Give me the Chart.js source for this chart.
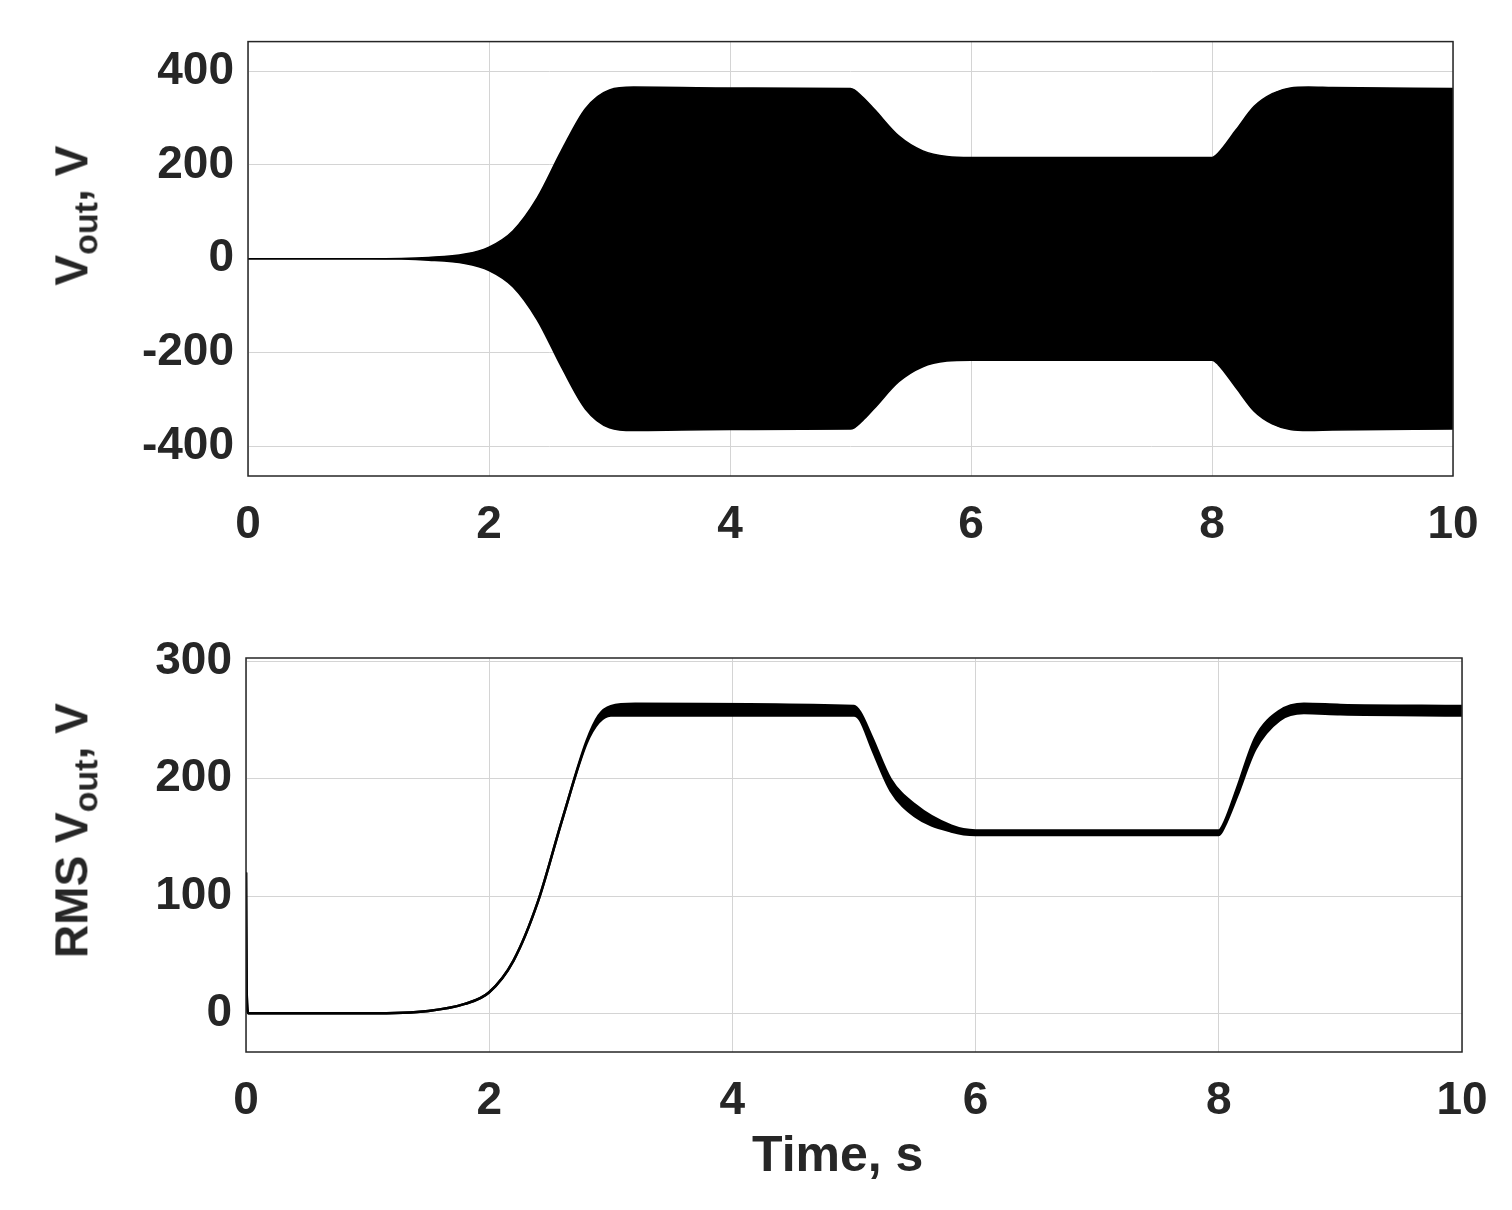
<!DOCTYPE html>
<html><head><meta charset="utf-8">
<script src="https://cdn.jsdelivr.net/npm/chart.js@4"></script>
<style>
body{margin:0;background:#fff;width:1512px;height:1210px;position:relative;overflow:hidden;font-family:"Liberation Sans",Arial,sans-serif}
canvas{position:absolute;left:0}
.yt{position:absolute;font-weight:bold;font-size:46px;color:#262626;transform:rotate(-90deg);transform-origin:center;white-space:nowrap}
.yt sub{font-size:34px}
</style></head><body>
<canvas id="c1" style="top:0px" width="1512" height="560"></canvas>
<canvas id="c2" style="top:600px" width="1512" height="560"></canvas>
<div class="yt" style="left:-55px;top:185px;width:260px;text-align:center">V<sub>out</sub>, V</div>
<div class="yt" style="left:-105px;top:800px;width:360px;text-align:center">RMS V<sub>out</sub>, V</div>
<div style="position:absolute;left:752px;top:1125px;font-weight:bold;font-size:50px;color:#262626">Time, s</div>
<script>
const envT=[0,1,1.5,1.8,2,2.2,2.4,2.6,2.8,3.0,3.2,4,5,5.1,5.2,5.4,5.6,5.8,6,8,8.05,8.2,8.35,8.5,8.65,8.8,9,10];
const envA=[0,0,3,10,25,60,130,230,320,360,366,364,363,345,318,262,230,218,216,216,225,275,325,352,364,366,365,363];
const rmsT=[0,0.005,0.02,1,1.5,1.8,2,2.2,2.4,2.6,2.8,2.9,3.0,3.2,5,5.05,5.15,5.3,5.5,5.8,6,8,8.05,8.15,8.3,8.5,8.7,9,10];
const rmsLo=[120,20,0,0,2,8,18,45,95,165,230,248,254,254,254,250,225,190,168,155,152,152,160,185,225,250,256,255,254];
const rmsHi=[120,20,0,0,2,8,18,45,95,165,232,254,262,264,262,257,235,200,178,160,156,156,164,192,235,258,264,263,262];
const xTicks=[0,2,4,6,8,10];
const yTicks1=[-400,-200,0,200,400];
const yTicks2=[0,100,200,300];
const font={family:"Liberation Sans",size:46,weight:"bold"};
const border={id:'bx',afterDraw(c){const a=c.chartArea,x=c.ctx;x.save();x.strokeStyle='#262626';x.lineWidth=1.5;x.strokeRect(a.left,a.top,a.right-a.left,a.bottom-a.top);x.restore();}};
function mk(id,datasets,ymin,ymax,yt,pad,yw,xh){
 return new Chart(document.getElementById(id),{type:'line',data:{datasets},
 options:{responsive:false,animation:false,layout:{padding:pad},
 plugins:{legend:{display:false},tooltip:{enabled:false}},
 elements:{point:{radius:0},line:{cubicInterpolationMode:'monotone'}},
 scales:{
  x:{type:'linear',min:0,max:10,afterBuildTicks:s=>{s.ticks=xTicks.map(v=>({value:v}))},
   afterFit:s=>{s.height=xh},grid:{color:'#d4d4d4',drawTicks:false,z:-1},border:{display:false},
   ticks:{font,color:'#262626',padding:22,maxRotation:0}},
  y:{min:ymin,max:ymax,afterBuildTicks:s=>{s.ticks=yt.map(v=>({value:v}))},
   afterFit:s=>{s.width=yw},grid:{color:'#d4d4d4',drawTicks:false,z:-1},border:{display:false},
   ticks:{font,color:'#262626',padding:14}}}},plugins:[border]});
}
mk('c1',[
 {data:envT.map((t,i)=>({x:t,y:envA[i]})),borderColor:'#000',borderWidth:1.5,backgroundColor:'#000',fill:'+1'},
 {data:envT.map((t,i)=>({x:t,y:-envA[i]})),borderColor:'#000',borderWidth:1.5,fill:false}
],-463,463,yTicks1,{top:40,right:59,left:0,bottom:0},248,84);
mk('c2',[
 {data:rmsT.map((t,i)=>({x:t,y:rmsHi[i]})),borderColor:'#000',borderWidth:2.5,backgroundColor:'#000',fill:'+1'},
 {data:rmsT.map((t,i)=>({x:t,y:rmsLo[i]})),borderColor:'#000',borderWidth:2.5,fill:false}
],-33,303,yTicks2,{top:58,right:50,left:0,bottom:0},246,108);
</script></body></html>
